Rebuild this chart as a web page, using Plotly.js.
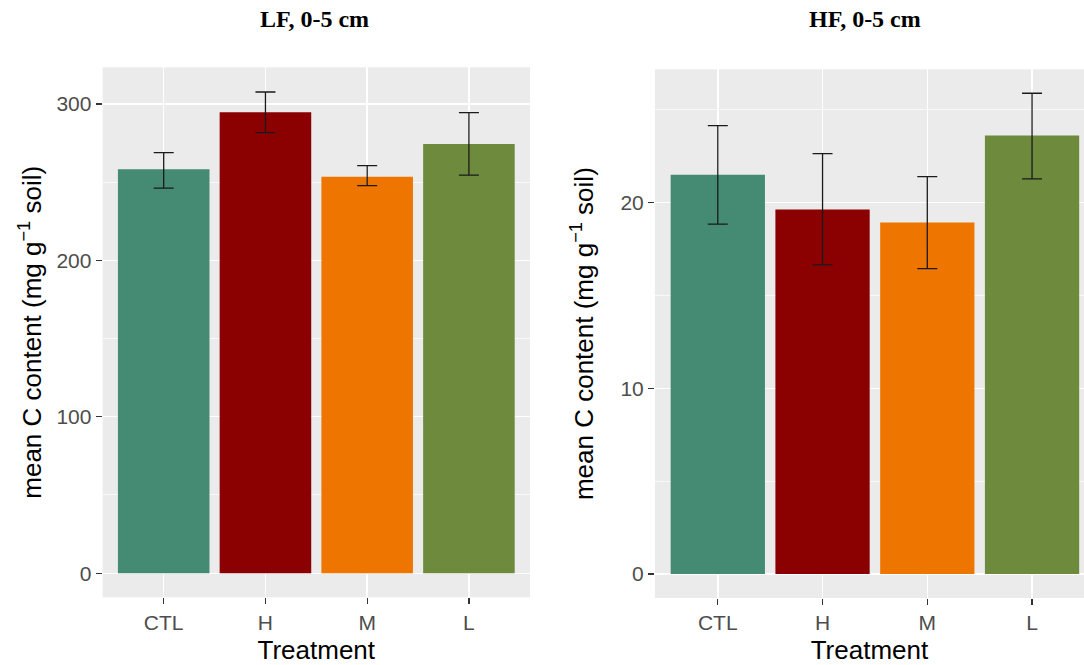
<!DOCTYPE html>
<html>
<head>
<meta charset="utf-8">
<script src="https://cdn.plot.ly/plotly-3.0.1.min.js"></script>
<style>html,body{margin:0;padding:0;background:#fff;}#chart{width:1084px;height:665px;}</style>
</head>
<body>
<div id="chart"></div>
<script>
// Data
var treatments = ['CTL', 'H', 'M', 'L'];
var colors = ['#458B74', '#8B0000', '#EE7600', '#6E8B3D'];

var lfMean  = [258.3, 294.7, 253.5, 274.3];
var lfUpper = [268.9, 307.6, 260.5, 294.4];
var lfLower = [246.2, 281.6, 247.7, 254.5];

var hfMean  = [21.49, 19.62, 18.92, 23.60];
var hfUpper = [24.14, 22.63, 21.39, 25.88];
var hfLower = [18.83, 16.64, 16.44, 21.27];

var panelTitles = ['LF, 0-5 cm', 'HF, 0-5 cm'];
var xTitle = 'Treatment';
var yTitle = 'mean C content (mg g<sup>\u22121</sup> soil)';

function diff(a, b) { return a.map(function (v, i) { return v - b[i]; }); }

var errStyle = {color: '#1a1a1a', thickness: 1.3, width: 10};

var traces = [
  {
    type: 'bar', x: treatments, y: lfMean, xaxis: 'x', yaxis: 'y',
    marker: {color: colors, line: {width: 0}}, width: 0.9,
    error_y: Object.assign({type: 'data', symmetric: false,
      array: diff(lfUpper, lfMean), arrayminus: diff(lfMean, lfLower)}, errStyle),
    hoverinfo: 'x+y', showlegend: false
  },
  {
    type: 'bar', x: treatments, y: hfMean, xaxis: 'x2', yaxis: 'y2',
    marker: {color: colors, line: {width: 0}}, width: 0.9,
    error_y: Object.assign({type: 'data', symmetric: false,
      array: diff(hfUpper, hfMean), arrayminus: diff(hfMean, hfLower)}, errStyle),
    hoverinfo: 'x+y', showlegend: false
  }
];

var tickFont = {family: 'Liberation Sans, Arial, sans-serif', size: 21, color: '#4D4D4D'};
var titleFont = {family: 'Liberation Sans, Arial, sans-serif', size: 26, color: '#000000'};

function xAxis(domain, range, anchor) {
  return {
    domain: domain, range: range, anchor: anchor, type: 'category',
    showgrid: true, gridcolor: '#FFFFFF', gridwidth: 1.4,
    ticks: 'outside', ticklen: 6, tickwidth: 1.2, tickcolor: '#333333',
    tickfont: tickFont, showline: false, zeroline: false,
    title: {text: xTitle, font: titleFont}, fixedrange: true
  };
}
function yAxis(domain, range, anchor, dtick, minorDtick) {
  return {
    domain: domain, range: range, anchor: anchor, dtick: dtick, tick0: 0,
    showgrid: true, gridcolor: '#FFFFFF', gridwidth: 1.4,
    minor: {dtick: minorDtick, tick0: 0, showgrid: true, gridcolor: '#FFFFFF', gridwidth: 0.7, ticks: ''},
    ticks: 'outside', ticklen: 6, tickwidth: 1.2, tickcolor: '#333333',
    tickfont: tickFont, showline: false, zeroline: false,
    title: {text: yTitle, font: titleFont}, fixedrange: true
  };
}

var layout = {
  width: 1084, height: 665,
  margin: {l: 0, r: 0, t: 0, b: 0},
  paper_bgcolor: '#FFFFFF', plot_bgcolor: '#EBEBEB',
  bargap: 0.1,
  xaxis: xAxis([0.0947, 0.4889], [-0.6, 3.6], 'y'),
  yaxis: yAxis([0.1018, 0.8988], [-15.4, 323.4], 'x', 100, 50),
  xaxis2: xAxis([0.6042, 1.0], [-0.6, 3.496], 'y2'),
  yaxis2: yAxis([0.1008, 0.8958], [-1.29, 27.17], 'x2', 10, 5),
  annotations: [
    {text: '<b>' + panelTitles[0] + '</b>', xref: 'paper', yref: 'paper', x: 0.2897, y: 0.9714,
     xanchor: 'center', yanchor: 'middle', showarrow: false,
     font: {family: 'Liberation Serif, Times New Roman, serif', size: 24, color: '#000000'}},
    {text: '<b>' + panelTitles[1] + '</b>', xref: 'paper', yref: 'paper', x: 0.798, y: 0.9714,
     xanchor: 'center', yanchor: 'middle', showarrow: false,
     font: {family: 'Liberation Serif, Times New Roman, serif', size: 24, color: '#000000'}}
  ]
};

Plotly.newPlot('chart', traces, layout, {displayModeBar: false, staticPlot: true});
</script>
</body>
</html>
